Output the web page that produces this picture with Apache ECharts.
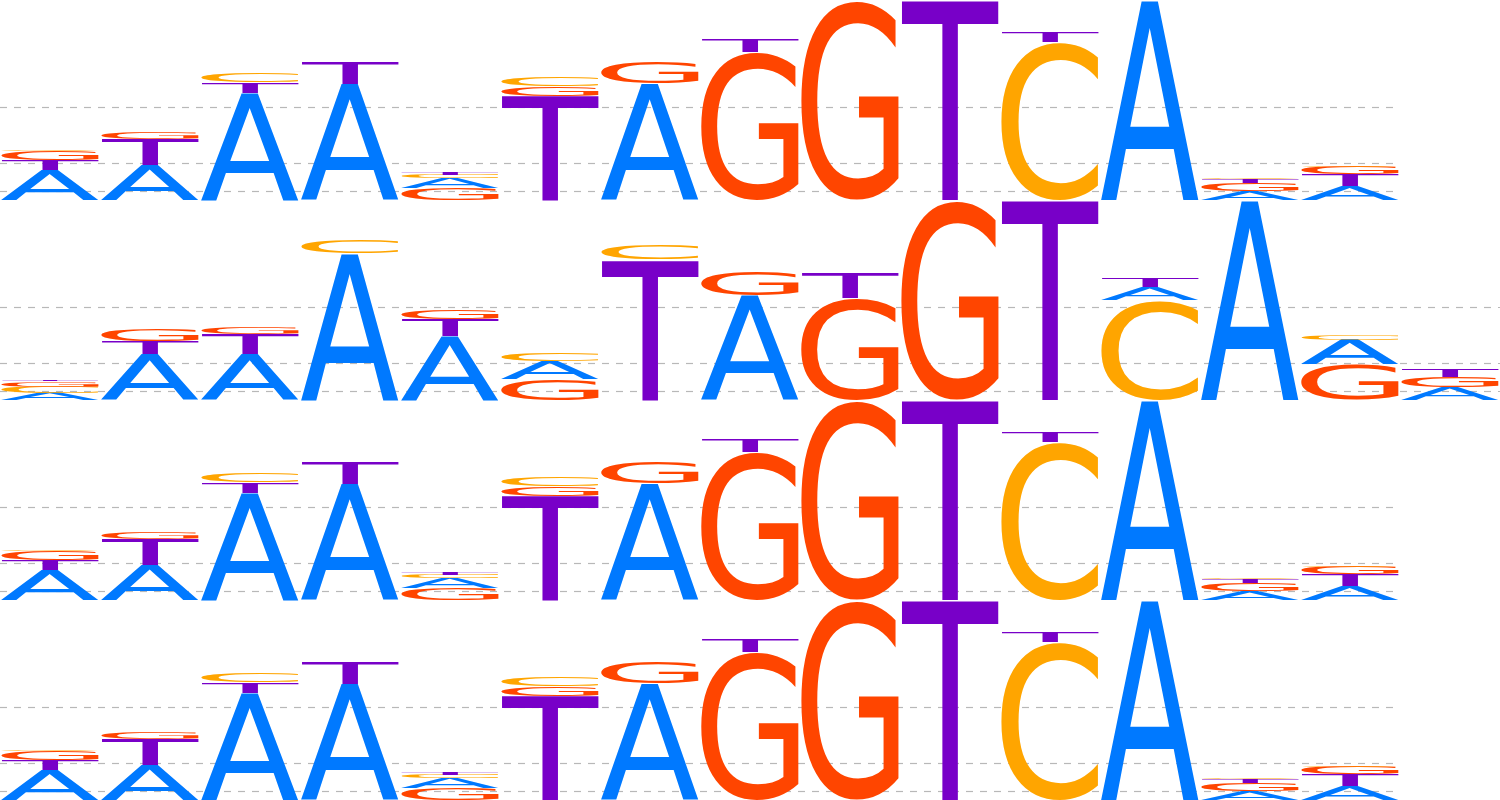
<!DOCTYPE html>
<html>
<head>
<meta charset="utf-8">
<title>Motif logos</title>
<script src="https://cdn.jsdelivr.net/npm/echarts@6/dist/echarts.min.js"></script>
<style>
  html, body { margin: 0; padding: 0; background: #fff; }
  #logo { width: 1500px; height: 800px; }
</style>
</head>
<body>
<div id="logo"></div>
<script>
// letter heights in bits, one value per position
var letters = ['A', 'C', 'G', 'T'];

// motif used in rows 1, 3 and 4 (14 positions)
var fwdA = [0.30, 0.35, 1.073, 1.16, 0.10, 0, 1.167, 0, 0, 0, 0, 2.0, 0.085, 0.143];
var fwdC = [0.017, 0.004, 0.09, 0, 0.035, 0.09, 0, 0, 0, 0, 1.583, 0, 0.017, 0.013];
var fwdG = [0.093, 0.067, 0, 0, 0.117, 0.097, 0.217, 1.483, 2.0, 0, 0, 0, 0.083, 0.075];
var fwdT = [0.10, 0.257, 0.11, 0.223, 0.02, 1.04, 0, 0.123, 0, 2.0, 0.107, 0, 0.04, 0.113];

// motif used in row 2 (15 positions)
var revA = [0.073, 0.46, 0.46, 1.467, 0.64, 0.183, 0, 1.05, 0, 0, 0, 0.127, 2.0, 0.24, 0.125];
var revC = [0.06, 0, 0, 0.133, 0, 0.08, 0.153, 0, 0, 0, 0, 1.0, 0, 0.05, 0];
var revG = [0.055, 0.12, 0.073, 0, 0.097, 0.21, 0, 0.24, 1.023, 2.0, 0, 0, 0, 0.36, 0.105];
var revT = [0.012, 0.13, 0.197, 0, 0.17, 0, 1.407, 0, 0.25, 0, 2.0, 0.093, 0, 0, 0.075];

var rowMotifs = ['fwd', 'rev', 'fwd', 'fwd'];
var gridLineValues = [0.087, 0.367, 0.933];

var motifs = {
  fwd: {A: fwdA, C: fwdC, G: fwdG, T: fwdT},
  rev: {A: revA, C: revC, G: revG, T: revT}
};
var letterColors = {A: '#0079ff', C: '#ffa500', G: '#ff4500', T: '#7800c8'};

var FONT = '400px "DejaVu Sans"';

// ink box of each glyph, measured the way zrender draws it (textBaseline middle)
var glyphMetrics = (function () {
  var ctx = document.createElement('canvas').getContext('2d');
  ctx.font = FONT;
  ctx.textAlign = 'left';
  ctx.textBaseline = 'middle';
  var out = {};
  letters.forEach(function (l) {
    var m = ctx.measureText(l);
    out[l] = {
      l: m.actualBoundingBoxLeft, r: m.actualBoundingBoxRight,
      a: m.actualBoundingBoxAscent, d: m.actualBoundingBoxDescent
    };
  });
  return out;
})();

function stackData(cols) {
  var out = [];
  for (var i = 0; i < cols.A.length; i++) {
    var col = letters.map(function (l, k) { return {k: k, h: cols[l][i]}; })
      .filter(function (d) { return d.h > 0; })
      .sort(function (a, b) { return b.h - a.h; });
    var base = 0;
    col.forEach(function (d) {
      out.push([i, base, base + d.h, d.k]);
      base += d.h;
    });
  }
  return out;
}

function renderLetter(params, api) {
  var p0 = api.coord([api.value(0), api.value(1)]);
  var p1 = api.coord([api.value(0) + 1, api.value(2)]);
  var letter = letters[api.value(3)];
  var m = glyphMetrics[letter];
  var w = p1[0] - p0[0];
  var h = p0[1] - p1[1];
  if (h < 0.2) return;
  var sx = w / (m.l + m.r);
  var sy = h / (m.a + m.d);
  return {
    type: 'text',
    x: p0[0] + m.l * sx,
    y: p1[1] + m.a * sy,
    scaleX: sx,
    scaleY: sy,
    style: {
      text: letter,
      font: FONT,
      fill: letterColors[letter],
      align: 'left',
      verticalAlign: 'middle'
    }
  };
}

var grids = [], xAxes = [], yAxes = [], series = [];
rowMotifs.forEach(function (name, i) {
  var cols = motifs[name];
  var n = cols.A.length;
  grids.push({left: 0, top: i * 200, width: n * 100, height: 200});
  xAxes.push({type: 'value', gridIndex: i, min: 0, max: n, show: false});
  yAxes.push({type: 'value', gridIndex: i, min: 0, max: 2, show: false});
  series.push({
    type: 'custom',
    xAxisIndex: i,
    yAxisIndex: i,
    z: 3,
    silent: true,
    clip: false,
    renderItem: renderLetter,
    data: stackData(cols),
    markLine: {
      silent: true,
      z: 1,
      symbol: 'none',
      label: {show: false},
      animation: false,
      lineStyle: {color: '#b8b8b8', width: 1.2, type: [7, 7]},
      data: gridLineValues.map(function (v) { return {yAxis: v}; })
    }
  });
});

var chart = echarts.init(document.getElementById('logo'), null, {renderer: 'canvas'});
chart.setOption({
  animation: false,
  backgroundColor: '#ffffff',
  grid: grids,
  xAxis: xAxes,
  yAxis: yAxes,
  series: series
});
</script>
</body>
</html>
